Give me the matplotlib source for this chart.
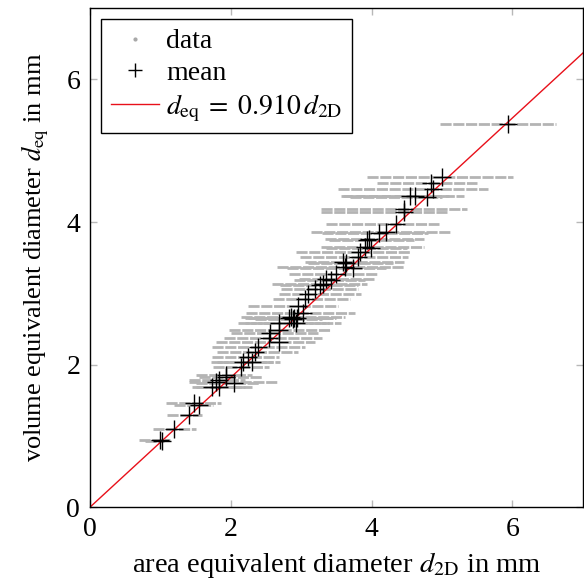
import matplotlib
matplotlib.use("Agg")
import matplotlib.pyplot as plt
import numpy as np

plt.rcParams['font.family'] = ['Liberation Serif', 'DejaVu Serif']
plt.rcParams['mathtext.fontset'] = 'stix'

# one row per particle: volume equivalent diameter and range of projected 2D diameters
d_eq = [5.38, 4.63, 4.55, 4.47, 4.37, 4.36, 4.35, 4.18, 4.14, 3.97, 3.86, 3.85,
        3.76, 3.75, 3.65, 3.64, 3.58, 3.51, 3.44, 3.43, 3.37, 3.36, 3.27, 3.20,
        3.19, 3.13, 3.12, 3.06, 2.99, 2.92, 2.82, 2.73, 2.67, 2.66, 2.66, 2.65,
        2.64, 2.59, 2.58, 2.49, 2.45, 2.38, 2.32, 2.25, 2.18, 2.11, 2.04, 2.03,
        1.97, 1.86, 1.82, 1.79, 1.75, 1.74, 1.69, 1.68, 1.46, 1.44, 1.30, 1.10,
        0.94, 0.93]
d2d_min = [4.97, 3.94, 4.08, 3.52, 3.56, 3.60, 3.70, 3.28, 3.28, 3.35, 3.14, 3.30,
           3.34, 3.40, 3.28, 3.35, 2.92, 2.99, 3.05, 3.10, 2.65, 2.80, 2.82, 2.97,
           2.90, 2.58, 2.70, 2.72, 2.68, 2.60, 2.25, 2.21, 2.14, 2.20, 2.30, 2.25,
           2.35, 2.20, 2.10, 1.97, 2.00, 1.90, 1.79, 1.73, 1.80, 1.73, 1.72, 1.80,
           1.75, 1.51, 1.55, 1.41, 1.41, 1.50, 1.45, 1.50, 1.08, 1.20, 1.10, 0.89,
           0.70, 0.78]
d2d_max = [6.62, 6.01, 5.49, 5.66, 5.31, 5.10, 5.00, 5.35, 5.07, 4.96, 5.11, 4.80,
           4.75, 4.60, 4.75, 4.50, 4.55, 4.51, 4.46, 4.30, 4.46, 4.20, 4.08, 4.05,
           3.90, 3.94, 3.80, 3.80, 3.85, 3.70, 3.52, 3.76, 3.62, 3.50, 3.45, 3.40,
           3.30, 3.56, 3.40, 3.42, 3.24, 3.30, 3.20, 3.06, 2.96, 2.68, 2.70, 2.60,
           2.55, 2.30, 2.44, 2.20, 2.65, 2.40, 2.30, 2.20, 1.86, 1.75, 1.59, 1.51,
           1.13, 1.05]
d2d_mean = [5.94, 5.00, 4.84, 4.87, 4.55, 4.62, 4.79, 4.46, 4.46, 4.34, 4.20, 4.11,
            3.97, 3.94, 3.90, 3.99, 3.83, 3.80, 3.59, 3.64, 3.62, 3.73, 3.49, 3.35,
            3.42, 3.31, 3.27, 3.19, 3.10, 3.06, 2.96, 3.03, 2.86, 2.90, 2.82, 2.94,
            2.88, 2.68, 2.93, 2.68, 2.56, 2.54, 2.68, 2.39, 2.35, 2.25, 2.18, 2.30,
            2.14, 1.93, 1.93, 1.83, 1.79, 2.04, 1.83, 1.73, 1.48, 1.55, 1.41, 1.20,
            0.99, 1.03]

slope = 0.910
fit_x = [0, 7]

fig = plt.figure(figsize=(5.84, 5.83), dpi=100)
ax = fig.add_axes([0.154, 0.130, 0.844, 0.856])

ax.hlines(d_eq, d2d_min, d2d_max, colors='#b4b4b4', linewidth=2.0,
          linestyles=(0, (4.0, 0.6)), zorder=1)
ax.plot([], [], ls='none', marker='.', color='#a8a8a8', markersize=5, label='data')
ax.plot(d2d_mean, d_eq, ls='none', marker='+', color='black', markersize=13,
        markeredgewidth=1.0, label='mean', zorder=3)
ax.plot(fit_x, [slope * v for v in fit_x], color='#e8101a', linewidth=1.0,
        label=r'$d_{\mathrm{eq}}\;=\;0.910\,d_{\mathrm{2D}}$', zorder=2)

ax.set_xlim(0, 7)
ax.set_ylim(0, 7)
ax.set_xticks([0, 2, 4, 6])
ax.set_yticks([0, 2, 4, 6])
ax.tick_params(direction='in', length=5, width=1, color='#b8b8b8',
               top=True, right=True, labelsize=20, pad=7)
for s in ax.spines.values():
    s.set_linewidth(1.0)
ax.set_xlabel(r'area equivalent diameter $d_{\mathrm{2D}}$ in mm', fontsize=20.5, labelpad=6)
ax.set_ylabel(r'volume equivalent diameter $d_{\mathrm{eq}}$ in mm', fontsize=19, labelpad=11)

leg = ax.legend(loc='upper left', fontsize=20, frameon=True, fancybox=False,
                edgecolor='black', framealpha=1, borderaxespad=0.4,
                handlelength=1.75, handletextpad=0.25, labelspacing=0.22,
                borderpad=0.35, markerscale=0.8)
leg.get_frame().set_linewidth(1.0)

fig.savefig("out.png", dpi=100)
